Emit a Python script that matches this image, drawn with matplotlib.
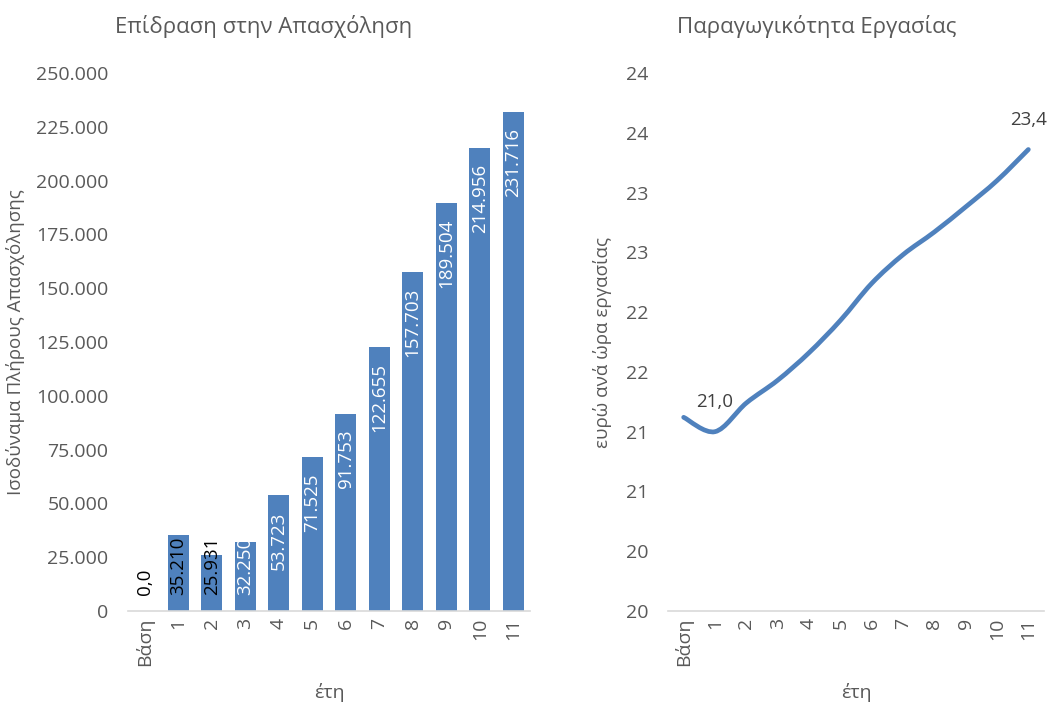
import matplotlib
matplotlib.use("Agg")
import matplotlib.pyplot as plt
from matplotlib.path import Path
from matplotlib.patches import PathPatch
import numpy as np

plt.rcParams['font.family'] = ['Open Sans', 'DejaVu Sans']

# ---- data ----
categories = ["Βάση", "1", "2", "3", "4", "5", "6", "7", "8", "9", "10", "11"]
employment = [0, 35210, 25931, 32250, 53723, 71525, 91753, 122655, 157703, 189504, 214956, 231716]
employment_labels = ["0,0", "35.210", "25.931", "32.250", "53.723", "71.525", "91.753",
                     "122.655", "157.703", "189.504", "214.956", "231.716"]
productivity = [21.12, 21.00, 21.24, 21.43, 21.66, 21.93, 22.24, 22.48, 22.67, 22.88, 23.10, 23.36]
prod_labels = {1: "21,0", 11: "23,4"}
left_yticks = [0, 25000, 50000, 75000, 100000, 125000, 150000, 175000, 200000, 225000, 250000]
left_yticklabels = ["0", "25.000", "50.000", "75.000", "100.000", "125.000", "150.000",
                    "175.000", "200.000", "225.000", "250.000"]
right_yticks = [19.5, 20.0, 20.5, 21.0, 21.5, 22.0, 22.5, 23.0, 23.5, 24.0]
right_yticklabels = ["20", "20", "21", "21", "22", "22", "23", "23", "24", "24"]

BLUE = "#4F81BD"
GRAY = "#595959"
AXIS = "#D9D9D9"
FS = 14

fig = plt.figure(figsize=(10.49, 7.03), dpi=100)

W, H = 1049, 703
def ax_rect(x0, x1, y_top, y_bot):
    return [x0 / W, 1 - y_bot / H, (x1 - x0) / W, (y_bot - y_top) / H]

ax1 = fig.add_axes(ax_rect(128, 530, 73, 611))
ax2 = fig.add_axes(ax_rect(668, 1044, 73, 611))

for ax in (ax1, ax2):
    for s in ("top", "right", "left"):
        ax.spines[s].set_visible(False)
    ax.spines["bottom"].set_color(AXIS)
    ax.spines["bottom"].set_linewidth(1.2)
    ax.tick_params(axis="both", length=0, colors=GRAY, labelsize=FS)
    ax.tick_params(axis="x", pad=5)
    ax.set_xlim(-0.5, len(categories) - 0.5)
    ax.set_xticks(range(len(categories)))
    ax.set_xticklabels(categories, rotation=90)
    ax.set_xlabel("έτη", color=GRAY, fontsize=FS, labelpad=12)

# ---- left: bars ----
x = np.arange(len(categories))
bars = ax1.bar(x, employment, width=0.63, color=BLUE, zorder=2)
ax1.set_ylim(0, 250000)
ax1.set_yticks(left_yticks)
ax1.set_yticklabels(left_yticklabels)
ax1.tick_params(axis="y", pad=14)
ax1.set_ylabel("Ισοδύναμα Πλήρους Απασχόλησης", color=GRAY, fontsize=13.5, labelpad=8)

dark_labels = {0, 1, 2}
for i, (b, v, lab) in enumerate(zip(bars, employment, employment_labels)):
    color = "black" if i in dark_labels else "white"
    if v >= 40000:
        t = ax1.text(i, v - 7400, lab, rotation=90, ha="center", va="top",
                     color=color, fontsize=13.5, zorder=3)
    else:
        t = ax1.text(i, 7400, lab, rotation=90, ha="center", va="bottom",
                     color=color, fontsize=13.5, zorder=3)
        if color == "white":
            t.set_clip_path(b)

fig.text(264 / W, 1 - 27 / H, "Επίδραση στην Απασχόληση", ha="center", va="center",
         color=GRAY, fontsize=16)

# ---- right: smooth line ----
ax2.set_ylim(19.5, 24.0)
ax2.set_yticks(right_yticks)
ax2.set_yticklabels(right_yticklabels)
ax2.tick_params(axis="y", pad=14)
ax2.set_ylabel("ευρώ ανά ώρα εργασίας", color=GRAY, fontsize=13.5, labelpad=10)

px = np.arange(len(productivity), dtype=float)
py = np.array(productivity)
verts = [(px[0], py[0])]
codes = [Path.MOVETO]
n = len(px)
for i in range(n - 1):
    p0 = (px[max(i - 1, 0)], py[max(i - 1, 0)])
    p1 = (px[i], py[i])
    p2 = (px[i + 1], py[i + 1])
    p3 = (px[min(i + 2, n - 1)], py[min(i + 2, n - 1)])
    t = 1 / 6
    c1 = (p1[0] + (p2[0] - p0[0]) * t, p1[1] + (p2[1] - p0[1]) * t)
    c2 = (p2[0] - (p3[0] - p1[0]) * t, p2[1] - (p3[1] - p1[1]) * t)
    verts += [c1, c2, p2]
    codes += [Path.CURVE4] * 3
ax2.add_patch(PathPatch(Path(verts, codes), facecolor="none", edgecolor=BLUE,
                        lw=3.4, capstyle="round", joinstyle="round", zorder=3))

for i, lab in prod_labels.items():
    ax2.annotate(lab, (i, productivity[i]), xytext=(0, 15), textcoords="offset points",
                 ha="center", va="bottom", color="#404040", fontsize=13.5)

fig.text(817 / W, 1 - 27 / H, "Παραγωγικότητα Εργασίας", ha="center", va="center",
         color=GRAY, fontsize=16)

fig.savefig("out.png", dpi=100)
